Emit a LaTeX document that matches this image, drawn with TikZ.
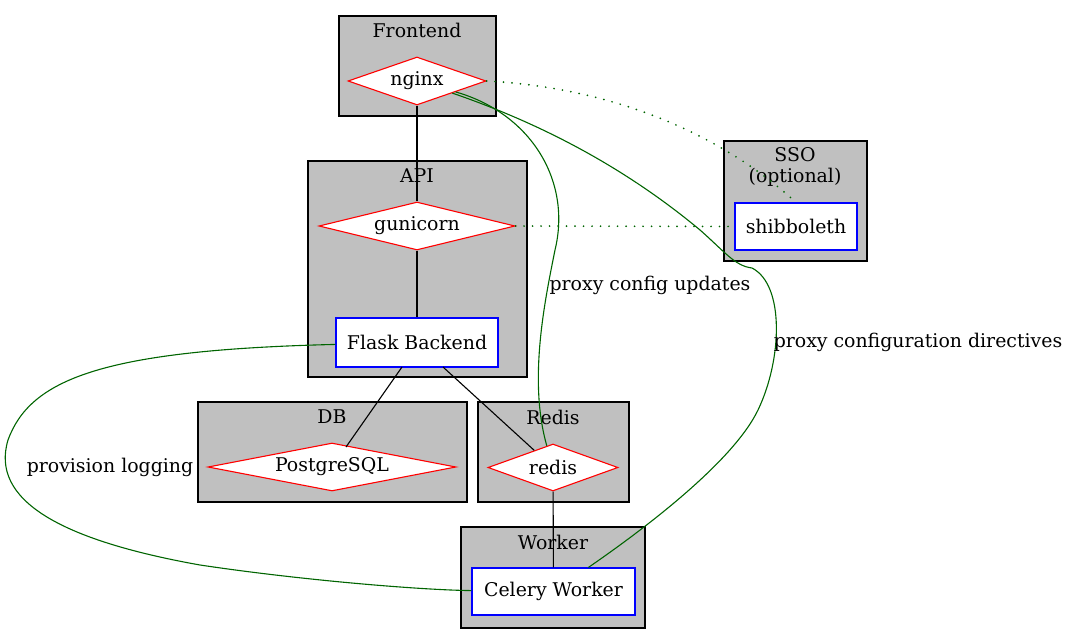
\documentclass[tikz,border=0pt]{standalone}
\usepackage{fontspec}
\setmainfont{DejaVu Serif}
\usetikzlibrary{shapes.geometric}
\definecolor{clgray}{RGB}{192,192,192}
\definecolor{edgegreen}{RGB}{0,100,0}
\begin{document}
\begin{tikzpicture}[x=1pt,y=-1pt,
  every node/.style={font=\fontsize{18.9}{22}\selectfont},
  cluster/.style={draw=black, fill=clgray, line width=1.1pt, inner sep=0pt},
  clabel/.style={inner sep=0pt, anchor=center},
  dia/.style={shape=diamond, draw=red, fill=white, line width=1.1pt, inner sep=0pt},
  boxn/.style={draw=blue, fill=white, line width=1.1pt, inner sep=0pt},
  link/.style={draw=black, line width=1.1pt},
  glink/.style={draw=edgegreen, line width=1.1pt},
  dlink/.style={draw=edgegreen, line width=1.9pt, line cap=round, dash pattern=on 0pt off 8.5pt},
  elabel/.style={inner sep=0pt}
]
\useasboundingbox (0,0) rectangle (1070,644);
% clusters
\node[cluster, minimum width=157pt, minimum height=100pt] (cfront) at (417.5,66) {};
\node[clabel] (lfront) at (417,30) {Frontend};
\node[cluster, minimum width=143pt, minimum height=120pt] (csso) at (795.5,201) {};
\node[clabel] (lsso) at (795,155) {SSO};
\node[clabel] (lsso2) at (795,177) {(optional)};
\node[cluster, minimum width=219pt, minimum height=216pt] (capi) at (417.5,269) {};
\node[clabel] (lapi) at (417,176) {API};
\node[cluster, minimum width=269pt, minimum height=100pt] (cdb) at (332.5,452) {};
\node[clabel] (ldb) at (332,417) {DB};
\node[cluster, minimum width=151pt, minimum height=100pt] (credis) at (553.5,452) {};
\node[clabel] (lredis) at (553,417) {Redis};
\node[cluster, minimum width=184pt, minimum height=101pt] (cworker) at (553,577.5) {};
\node[clabel] (lworker) at (553,542) {Worker};
% nodes
\node[dia, minimum width=138pt, minimum height=48pt, aspect=2.875] (nginx) at (417,81) {nginx};
\node[boxn, minimum width=122pt, minimum height=47pt] (shib) at (796,226.5) {shibboleth};
\node[dia, minimum width=196pt, minimum height=48pt, aspect=4.08] (gunicorn) at (417,226) {gunicorn};
\node[boxn, minimum width=162pt, minimum height=49pt] (flask) at (417,342.5) {Flask Backend};
\node[dia, minimum width=248pt, minimum height=48pt, aspect=5.17] (pg) at (332,467) {PostgreSQL};
\node[dia, minimum width=130pt, minimum height=47pt, aspect=2.77] (redis) at (553,467.5) {redis};
\node[boxn, minimum width=163pt, minimum height=47pt] (celery) at (553.5,591.5) {Celery Worker};
% black edges
\draw[link] (nginx) -- (gunicorn);
\draw[link] (gunicorn) -- (flask);
\coordinate (fs1) at (402,367);
\coordinate (pgt) at (346,447);
\draw[link] (fs1) -- (pgt);
\coordinate (fs2) at (443,367);
\draw[link] (fs2) -- (redis);
\draw[link] (redis) -- (celery);
% green edges
\draw[dlink] (nginx.east) .. controls (650,90) and (750,160) .. (shib.north);
\draw[dlink] (gunicorn.east) -- (shib.west);
\draw[glink] (nginx) .. controls (530,113) and (572,180) .. (555,250)
  .. controls (545,300) and (528,380) .. (redis);
\draw[glink] (nginx) .. controls (560,130) and (640,180) .. (700,230)
  .. controls (725,252) and (735,266) .. (752,268)
  .. controls (785,285) and (782,360) .. (758,410)
  .. controls (734,460) and (650,525) .. (celery);
\draw[glink] (flask) .. controls (100,350) and (30,380) .. (8,440)
  .. controls (-10,500) and (60,540) .. (200,565)
  .. controls (300,580) and (420,590) .. (celery);
% edge labels
\node[elabel] (t1) at (650,285) {proxy config updates};
\node[elabel] (t2) at (918,342) {proxy configuration directives};
\node[elabel] (t3) at (110,467) {provision logging};
\end{tikzpicture}
\end{document}
